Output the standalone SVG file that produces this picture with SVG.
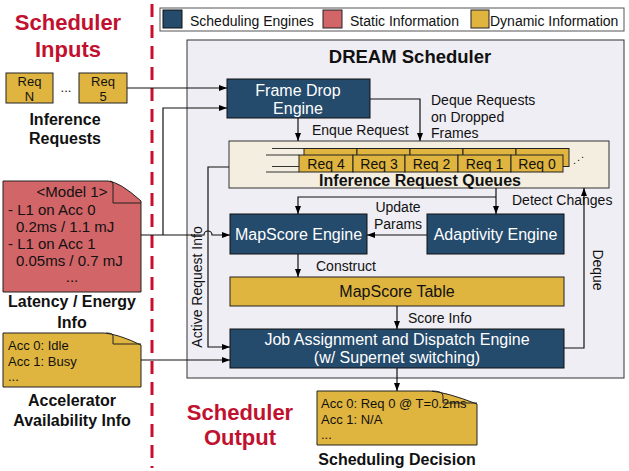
<svg xmlns="http://www.w3.org/2000/svg" width="629" height="471" viewBox="0 0 629 471">
<defs>
<marker id="ah" markerWidth="8" markerHeight="6" refX="8" refY="3" orient="auto" markerUnits="userSpaceOnUse"><path d="M0,0 L8,3 L0,6 z" fill="#000"/></marker>
</defs>
<style>
text{font-family:"Liberation Sans",Arial,sans-serif;}
.t{font-size:14px;fill:#111;}
.w{font-size:16px;fill:#fff;}
.bx{font-size:16px;fill:#111;}
.s{font-size:13px;fill:#111;}
.q{font-size:14px;fill:#111;}
.l{font-size:15px;fill:#111;}
.b{font-size:16px;font-weight:bold;fill:#111;}
.r{font-size:22px;font-weight:bold;fill:#c1112f;}
.eng{fill:#244a6c;stroke:#111;stroke-width:1;}
.dyn{fill:#dfb43f;stroke:#222;stroke-width:1;}
.sta{fill:#d16567;stroke:#222;stroke-width:1;}
.ln{fill:none;stroke:#111;stroke-width:1.2;}
.m{text-anchor:middle;}
</style>
<rect width="629" height="471" fill="#fff"/>
<!-- dashed divider -->
<line x1="152" y1="4" x2="152" y2="468" stroke="#c8102e" stroke-width="3" stroke-dasharray="13,8"/>
<!-- titles -->
<text class="r m" x="68" y="30">Scheduler</text>
<text class="r m" x="68" y="57">Inputs</text>
<text class="r m" x="240" y="420">Scheduler</text>
<text class="r m" x="240" y="445">Output</text>
<!-- legend -->
<g id="legend">
<rect x="160" y="8" width="464" height="23" fill="#fff" stroke="#555" stroke-width="1"/>
<rect x="163" y="10" width="19" height="18" class="eng"/>
<text class="t" x="190" y="26">Scheduling Engines</text>
<rect x="323" y="10" width="19" height="18" class="sta"/>
<text class="t" x="350" y="26">Static Information</text>
<rect x="471" y="10" width="18" height="18" class="dyn"/>
<text class="t" x="490" y="26">Dynamic Information</text>
</g>
<!-- scheduler container -->
<g id="scheduler">
<rect x="187" y="40" width="437" height="338" fill="#efeef4" stroke="#333" stroke-width="1"/>
<text x="410" y="63" class="m" style="font-size:18.5px;font-weight:bold;fill:#111">DREAM Scheduler</text>
</g>
<!-- inputs -->
<g id="req-n"><rect x="6" y="73" width="47" height="30" class="dyn"/><text class="s m" x="29.5" y="86">Req</text><text class="s m" x="29.5" y="101">N</text></g>
<text class="s m" x="66" y="92">...</text>
<g id="req-5"><rect x="79" y="73" width="48" height="30" class="dyn"/><text class="s m" x="103" y="86">Req</text><text class="s m" x="103" y="101">5</text></g>
<text class="b m" x="65" y="125">Inference</text>
<text class="b m" x="65" y="144">Requests</text>
<g id="latency-info">
<path d="M3,181 H108 Q120,182 141,201 V292 H3 Z" class="sta"/>
<path d="M110,181 Q113,181 113,184 V203 H141" fill="none" stroke="#222" stroke-width="1"/>
<text class="l m" x="72" y="197">&lt;Model 1&gt;</text>
<text class="l" x="8" y="215">- L1 on Acc 0</text>
<text class="l" x="16" y="232">0.2ms / 1.1 mJ</text>
<text class="l" x="8" y="249">- L1 on Acc 1</text>
<text class="l" x="16" y="266">0.05ms / 0.7 mJ</text>
<text class="l m" x="72" y="282">...</text>
<text class="b m" x="72" y="307">Latency / Energy</text>
<text class="b m" x="72" y="328">Info</text>
</g>
<g id="accel-info">
<path d="M3,333 H104 Q118,334 141,345 V387 H3 Z" class="dyn"/>
<path d="M106,333 Q113,333 113,336 V344 H141" fill="none" stroke="#222" stroke-width="1"/>
<text class="s" x="8" y="350">Acc 0: Idle</text>
<text class="s" x="8" y="366">Acc 1: Busy</text>
<text class="s" x="8" y="381">...</text>
<text class="b m" x="72" y="406">Accelerator</text>
<text class="b m" x="72" y="426">Availability Info</text>
</g>
<!-- engines -->
<g id="frame-drop"><rect x="227" y="79" width="143" height="39" class="eng"/><text class="w m" x="298" y="96">Frame Drop</text><text class="w m" x="298" y="114">Engine</text></g>
<g id="queues">
<rect x="229" y="141" width="380" height="47" fill="#f3eee0" stroke="#333" stroke-width="1"/>
<line x1="272" y1="148.5" x2="304" y2="148.5" stroke="#333" stroke-width="1"/>
<line x1="272" y1="166.5" x2="304" y2="166.5" stroke="#333" stroke-width="1"/>
<line x1="266" y1="155" x2="299" y2="155" stroke="#333" stroke-width="1"/>
<line x1="266" y1="172" x2="299" y2="172" stroke="#333" stroke-width="1"/>
<g class="dyn">
<rect x="304" y="148.5" width="53" height="18"/><rect x="357" y="148.5" width="53" height="18"/><rect x="410" y="148.5" width="53" height="18"/><rect x="463" y="148.5" width="53" height="18"/><rect x="516" y="148.5" width="53" height="18"/>
</g>
<g class="dyn">
<rect x="299" y="155" width="54" height="17"/><rect x="353" y="155" width="52" height="17"/><rect x="405" y="155" width="53" height="17"/><rect x="458" y="155" width="53" height="17"/><rect x="511" y="155" width="52" height="17"/>
</g>
<text class="q m" x="326" y="168.5">Req 4</text>
<text class="q m" x="379" y="168.5">Req 3</text>
<text class="q m" x="431.5" y="168.5">Req 2</text>
<text class="q m" x="484.5" y="168.5">Req 1</text>
<text class="q m" x="537" y="168.5">Req 0</text>
<text class="s" x="573" y="164" style="font-size:11px">.</text>
<text class="s" x="577" y="161" style="font-size:11px">.</text>
<text class="s" x="581" y="158" style="font-size:11px">.</text>
<text class="m" x="420" y="186" style="font-size:16px;font-weight:bold;fill:#111">Inference Request Queues</text>
</g>
<g id="mapscore-engine"><rect x="230" y="214" width="137" height="40" class="eng"/><text class="w m" x="298.5" y="240">MapScore Engine</text></g>
<g id="adaptivity-engine"><rect x="427" y="214" width="137" height="40" class="eng"/><text class="w m" x="495.5" y="240">Adaptivity Engine</text></g>
<g id="mapscore-table"><rect x="230" y="277" width="334" height="29" class="dyn"/><text class="bx m" x="397" y="297">MapScore Table</text></g>
<g id="job-engine"><rect x="230" y="329" width="334" height="39" class="eng"/><text class="w m" x="397" y="345">Job Assignment and Dispatch Engine</text><text class="w m" x="397" y="363">(w/ Supernet switching)</text></g>
<g id="decision">
<path d="M317,391 H430 Q446,392 477,404 V445 H317 Z" class="dyn"/>
<path d="M432,391 Q443,391 443,396 V403 H477" fill="none" stroke="#222" stroke-width="1"/>
<text class="s" x="321" y="408">Acc 0: Req 0 @ T=0.2ms</text>
<text class="s" x="321" y="424">Acc 1: N/A</text>
<text class="s" x="321" y="439">...</text>
<text class="b m" x="397" y="465">Scheduling Decision</text>
</g>
<!-- connectors -->
<g id="connectors" class="ln">
<path d="M127,88 H227" marker-end="url(#ah)"/>
<path d="M163,235 V108 H227" marker-end="url(#ah)"/>
<path d="M141,235 H204 A4,4 0 0 1 212,235 H230" marker-end="url(#ah)"/>
<path d="M229,167 H208 V347 H230" marker-end="url(#ah)"/>
<path d="M141,360 H230" marker-end="url(#ah)"/>
<path d="M298,118 V141" marker-end="url(#ah)"/>
<path d="M370,99 H420 V141" marker-end="url(#ah)"/>
<path d="M496,188 V214" marker-end="url(#ah)"/>
<path d="M496,197 H298 V214" marker-end="url(#ah)"/>
<path d="M427,235 H367" marker-end="url(#ah)"/>
<path d="M298,254 V277" marker-end="url(#ah)"/>
<path d="M397,306 V329" marker-end="url(#ah)"/>
<path d="M564,348 H584 V188" marker-end="url(#ah)"/>
<path d="M397,368 V391" marker-end="url(#ah)"/>
</g>
<!-- connector labels -->
<text class="t" x="312" y="135">Enque Request</text>
<text class="t" x="431" y="105">Deque Requests</text>
<text class="t" x="431" y="122">on Dropped</text>
<text class="t" x="431" y="138">Frames</text>
<text class="t m" x="398" y="212">Update</text>
<text class="t m" x="398" y="229">Params</text>
<text class="t" x="512" y="205">Detect Changes</text>
<text class="t" x="316" y="271">Construct</text>
<text class="t" x="408" y="323">Score Info</text>
<text class="t m" transform="translate(202,287) rotate(-90)">Active Request Info</text>
<text class="t m" transform="translate(593,270) rotate(90)">Deque</text>
</svg>
